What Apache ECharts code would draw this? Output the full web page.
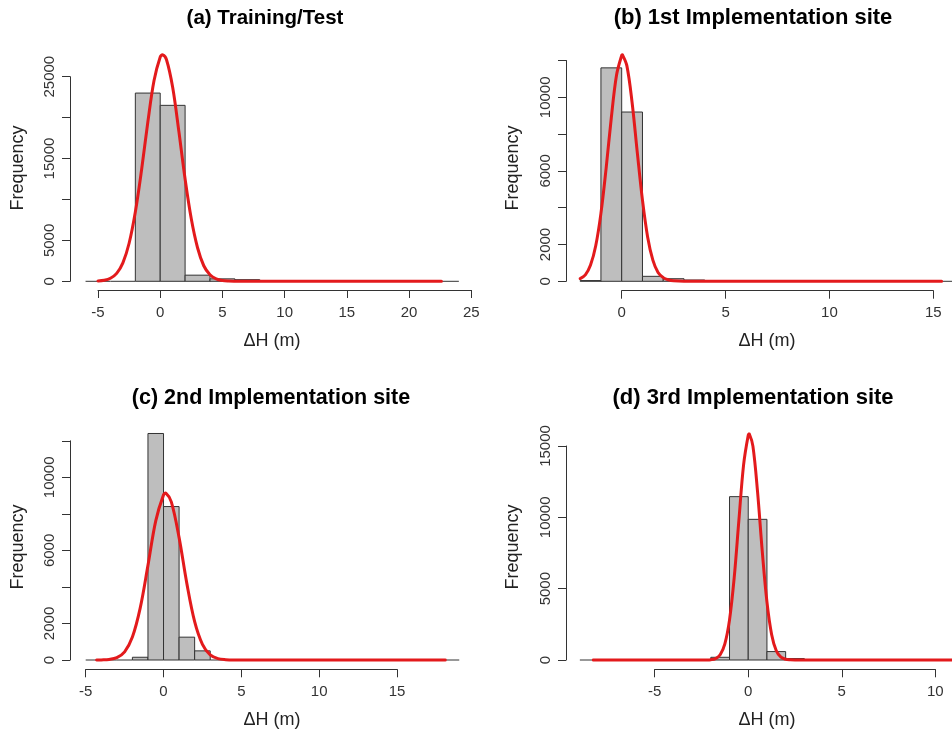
<!DOCTYPE html>
<html><head><meta charset="utf-8">
<script src="https://cdn.jsdelivr.net/npm/echarts@6/dist/echarts.min.js"></script>
<style>html,body{margin:0;padding:0;background:#fff}#c{width:952px;height:733px}</style>
</head><body><div id="c"></div>
<script>
// ---------------- data ----------------
const titles = ['(a) Training/Test', '(b) 1st Implementation site', '(c) 2nd Implementation site', '(d) 3rd Implementation site'];
const xName = 'ΔH (m)';
const yName = 'Frequency';

// histogram bins (start, width, counts)
const binStartA = -6, binWidthA = 2;
const countsA = [0, 0, 23000, 21500, 750, 300, 200, 0, 0, 0, 0, 0, 0, 0, 0];
const binStartB = -2, binWidthB = 1;
const countsB = [40, 11600, 9200, 270, 140, 70, 0, 0, 0, 0, 0, 0, 0, 0, 0, 0, 0, 0];
const binStartC = -5, binWidthC = 1;
const countsC = [0, 0, 0, 150, 12400, 8400, 1250, 500, 0, 0, 0, 0, 0, 0, 0, 0, 0, 0, 0, 0, 0, 0, 0, 0];
const binStartD = -9, binWidthD = 1;
const countsD = [0, 0, 0, 0, 0, 0, 0, 190, 11450, 9860, 590, 100, 0, 0, 0, 0, 0, 0, 0, 0];

// red curves
const curveXA = [-5, -4.5, -4, -3.5, -3, -2.5, -2, -1.5, -1, -0.5, 0, 0.2, 0.5, 1, 1.5, 2, 2.5, 3, 3.5, 4, 4.5, 5, 5.5, 6, 7, 22.6];
const curveYA = [40, 120, 370, 970, 2260, 4650, 8470, 13600, 19400, 24500, 27400, 27660, 27100, 23700, 18300, 12500, 7600, 4100, 1900, 800, 300, 100, 30, 10, 0, 0];
const curveXB = [-2, -1.75, -1.5, -1.25, -1, -0.75, -0.5, -0.25, 0, 0.04, 0.25, 0.5, 0.75, 1, 1.25, 1.5, 1.75, 2, 2.25, 2.5, 3, 15.4];
const curveYB = [150, 350, 880, 1930, 3690, 6140, 8890, 11200, 12280, 12300, 11710, 9720, 7010, 4410, 2400, 1150, 480, 200, 80, 25, 0, 0];
const curveXC = [-4.3, -4, -3.5, -3, -2.5, -2, -1.5, -1, -0.5, 0, 0.15, 0.5, 1, 1.5, 2, 2.5, 3, 3.5, 4, 4.5, 18.1];
const curveYC = [0, 6, 30, 130, 450, 1260, 2840, 5180, 7620, 9040, 9130, 8660, 6700, 4180, 2100, 860, 280, 75, 16, 0, 0];
const curveXD = [-8.28, -2.5, -2.25, -2, -1.75, -1.5, -1.25, -1, -0.75, -0.5, -0.25, 0, 0.06, 0.25, 0.5, 0.75, 1, 1.25, 1.5, 1.75, 2, 2.25, 2.5, 10.9];
const curveYD = [0, 2, 6, 23, 100, 370, 1130, 2810, 5770, 9780, 13660, 15750, 15840, 14990, 11760, 7610, 4070, 1790, 650, 195, 48, 10, 0, 0];

// axis ticks and which tick values carry a label
const xTicksA = [-5, 0, 5, 10, 15, 20, 25];
const yTicksA = [0, 5000, 10000, 15000, 20000, 25000];
const yLabelsA = [0, 5000, 15000, 25000];
const xTicksB = [0, 5, 10, 15];
const yTicksB = [0, 2000, 4000, 6000, 8000, 10000, 12000];
const yLabelsB = [0, 2000, 6000, 10000];
const xTicksC = [-5, 0, 5, 10, 15];
const yTicksC = [0, 2000, 4000, 6000, 8000, 10000, 12000];
const yLabelsC = [0, 2000, 6000, 10000];
const xTicksD = [-5, 0, 5, 10];
const yTicksD = [0, 5000, 10000, 15000];
const yLabelsD = [0, 5000, 10000, 15000];

// ---------------- build ----------------
function histData(start, width, counts) {
  return counts.map((c, i) => [start + i * width, start + (i + 1) * width, c]);
}
function curveData(xs, ys) { return xs.map((x, i) => [x, ys[i]]); }

const panels = [
  { hist: histData(binStartA, binWidthA, countsA), curve: curveData(curveXA, curveYA), xt: xTicksA, yt: yTicksA, yl: yLabelsA,
    grid: { left: 98, top: 76.7, width: 373.3, height: 204.6 }, xOff: 8.7, yOff: 28,
    tPos: [265, 18], tSize: 20.5, xnPos: [272, 341], ynPos: [18, 168] },
  { hist: histData(binStartB, binWidthB, countsB), curve: curveData(curveXB, curveYB), xt: xTicksB, yt: yTicksB, yl: yLabelsB,
    grid: { left: 621.7, top: 60.5, width: 311.6, height: 220.8 }, xOff: 9.4, yOff: 55.7,
    tPos: [753, 18], tSize: 22, xnPos: [767, 341], ynPos: [513, 168] },
  { hist: histData(binStartC, binWidthC, countsC), curve: curveData(curveXC, curveYC), xt: xTicksC, yt: yTicksC, yl: yLabelsC,
    grid: { left: 85.7, top: 440.8, width: 311.3, height: 219.2 }, xOff: 9.3, yOff: 15.7,
    tPos: [271, 398], tSize: 21.5, xnPos: [272, 720], ynPos: [18, 547] },
  { hist: histData(binStartD, binWidthD, countsD), curve: curveData(curveXD, curveYD), xt: xTicksD, yt: yTicksD, yl: yLabelsD,
    grid: { left: 654.7, top: 446, width: 280.6, height: 214 }, xOff: 9.3, yOff: 88.7,
    tPos: [753, 398], tSize: 22, xnPos: [767, 720], ynPos: [513, 547] }
];

const FONT = '"Liberation Sans", Arial, sans-serif';
const axisColor = '#333';
const grids = [], xAxes = [], yAxes = [], series = [], graphics = [];

panels.forEach((p, i) => {
  grids.push(Object.assign({ outerBoundsMode: 'none', containLabel: false }, p.grid));
  xAxes.push({
    type: 'value', gridIndex: i, min: p.xt[0], max: p.xt[p.xt.length - 1], interval: p.xt[1] - p.xt[0],
    offset: p.xOff, splitLine: { show: false },
    axisLine: { show: true, onZero: false, lineStyle: { color: axisColor, width: 1 } },
    axisTick: { show: true, length: 8, lineStyle: { color: axisColor, width: 1 } },
    axisLabel: { fontSize: 15, color: '#333', margin: 15, fontFamily: FONT, formatter: v => String(v) }
  });
  yAxes.push({
    type: 'value', gridIndex: i, min: p.yt[0], max: p.yt[p.yt.length - 1], interval: p.yt[1] - p.yt[0],
    offset: p.yOff, splitLine: { show: false },
    axisLine: { show: true, onZero: false, lineStyle: { color: axisColor, width: 1 } },
    axisTick: { show: true, length: 8, lineStyle: { color: axisColor, width: 1 } },
    axisLabel: { fontSize: 15, color: '#333', margin: 13, rotate: 90, fontFamily: FONT,
      formatter: v => (p.yl.indexOf(v) >= 0 ? String(v) : '') }
  });
  // histogram bars
  series.push({
    type: 'custom', xAxisIndex: i, yAxisIndex: i, clip: false, z: 2,
    data: p.hist, encode: { x: [0, 1], y: 2 },
    renderItem: function (params, api) {
      const a = api.coord([api.value(0), 0]);
      const b = api.coord([api.value(1), api.value(2)]);
      const h = a[1] - b[1];
      if (h < 0.6) {
        return { type: 'line', shape: { x1: a[0], y1: a[1], x2: b[0], y2: a[1] },
          style: { stroke: '#333', lineWidth: 1 } };
      }
      return { type: 'rect', shape: { x: a[0], y: b[1], width: b[0] - a[0], height: h },
        style: { fill: '#bebebe', stroke: '#333', lineWidth: 1 } };
    }
  });
  // red curve (one smooth polyline through the axis scales, not clipped to the tick range)
  const pts = p.curve;
  series.push({
    type: 'custom', xAxisIndex: i, yAxisIndex: i, clip: false, z: 5,
    data: pts, encode: { x: 0, y: 1 },
    renderItem: function (params, api) {
      if (params.dataIndex !== 0) return null;
      const points = pts.map(q => api.coord(q));
      return { type: 'polyline', shape: { points: points, smooth: 0.35 },
        style: { stroke: '#e31a1c', lineWidth: 3, fill: null, lineJoin: 'round', lineCap: 'round' } };
    }
  });
  graphics.push({ type: 'text', x: p.tPos[0], y: p.tPos[1],
    style: { text: titles[i], font: 'bold ' + p.tSize + 'px ' + FONT, fill: '#000', textAlign: 'center', align: 'center', textVerticalAlign: 'middle', verticalAlign: 'middle' } });
  graphics.push({ type: 'text', x: p.xnPos[0], y: p.xnPos[1],
    style: { text: xName, font: '18px ' + FONT, fill: '#222', textAlign: 'center', align: 'center', textVerticalAlign: 'middle', verticalAlign: 'middle' } });
  graphics.push({ type: 'text', x: p.ynPos[0], y: p.ynPos[1], rotation: Math.PI / 2,
    style: { text: yName, font: '18px ' + FONT, fill: '#222', textAlign: 'center', align: 'center', textVerticalAlign: 'middle', verticalAlign: 'middle' } });
});

const chart = echarts.init(document.getElementById('c'), null, { renderer: 'canvas' });
chart.setOption({
  backgroundColor: '#fff', animation: false,
  grid: grids, xAxis: xAxes, yAxis: yAxes, series: series, graphic: graphics
});
</script></body></html>
